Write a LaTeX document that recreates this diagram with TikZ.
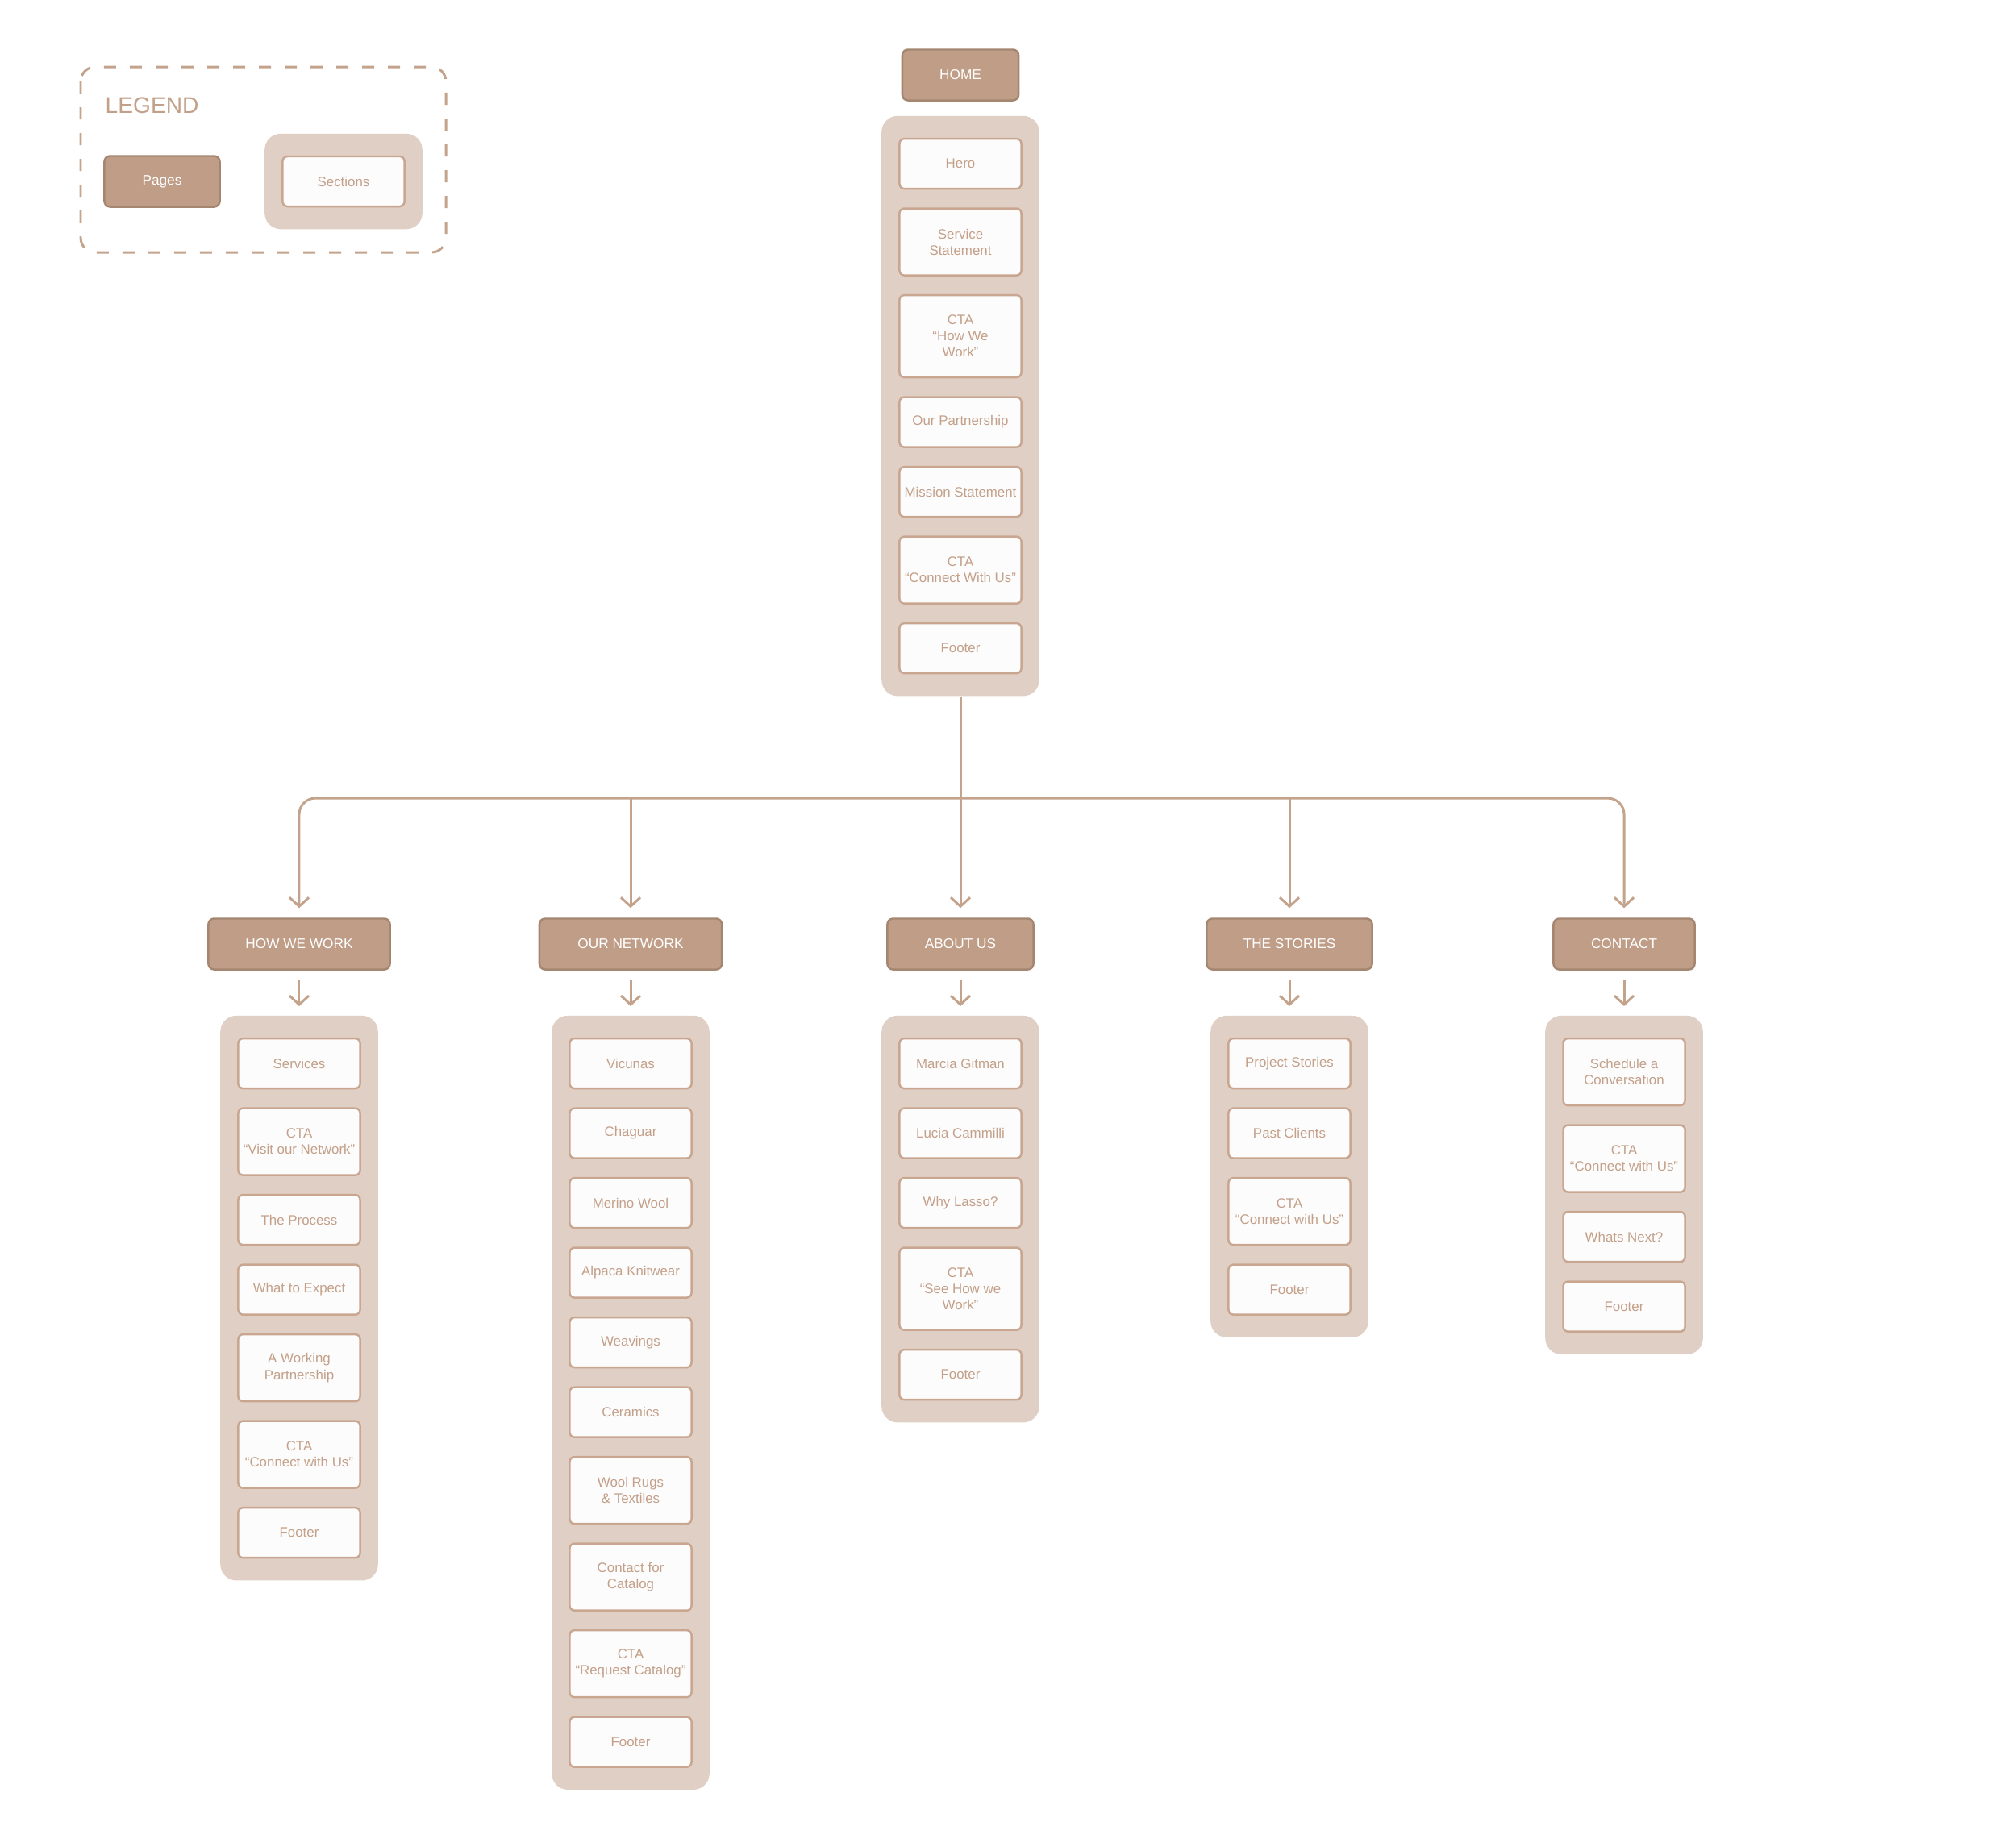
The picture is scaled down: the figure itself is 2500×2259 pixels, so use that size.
\documentclass[tikz,border=0pt]{standalone}
\usepackage{fontspec}
\setmainfont{Liberation Sans}
\usepackage{tikz}
\usetikzlibrary{arrows.meta,backgrounds,calc,positioning,fit}
\definecolor{seite}{RGB}{191,157,135}
\definecolor{seiterand}{RGB}{164,134,113}
\definecolor{halter}{RGB}{224,207,196}
\definecolor{abschnitt}{RGB}{253,252,252}
\definecolor{abschnittrand}{RGB}{201,166,144}
\definecolor{schrift}{RGB}{195,160,137}
\definecolor{linie}{RGB}{196,163,141}
\tikzset{
  page/.style={draw=seiterand,fill=seite,line width=0.7pt,rounded corners=0.07cm,minimum height=0.63cm,text=white,font=\fontsize{4.9}{6}\selectfont,inner sep=0pt},
  sect/.style={draw=abschnittrand,fill=abschnitt,line width=0.7pt,rounded corners=0.06cm,minimum width=1.51cm,text=schrift,align=center,font=\fontsize{4.8}{5.7}\selectfont,inner sep=0pt},
  holder/.style={fill=halter,rounded corners=0.2cm,inner xsep=0.21cm,inner ysep=0.27cm},
  conn/.style={draw=linie,line width=0.85pt,-{Straight Barb[length=0.11cm,width=0.24cm]}}
}

\begin{document}
\begin{tikzpicture}[x=0.01cm,y=-0.01cm]
%Koordinaten in Pixeln des Bildes, y zeigt nach unten
\useasboundingbox (0,0) rectangle (2500,2259);
%Legende
\draw[linie,dash pattern=on 0.15cm off 0.17cm,line width=0.85pt,rounded corners=0.18cm] (100,83) rectangle (553,313);
\node[anchor=base west,inner sep=0pt,text=schrift,font=\fontsize{8}{9}\selectfont] (legende) at (130,140) {LEGEND};
\node[page,minimum width=1.43cm] (lpage) at (201,225) {Pages};
\node[sect,minimum height=0.62cm] (lsect) at (426,225) {Sections};
%Startseite
\node[page,minimum width=1.44cm,alias=home-0] (home) at (1191,93) {HOME};
\foreach \txt/\h [count=\i,remember=\i as \j (initially 0)] in {Hero/0.62,{Service\\Statement}/0.83,{CTA\\“How We\\Work”}/1.02,Our Partnership/0.62,Mission Statement/0.62,{CTA\\“Connect With Us”}/0.83,Footer/0.62}{
  \pgfmathsetmacro\abst{\i==1 ? 0.45 : 0.22}
  \node[sect,minimum height=\h cm,below=\abst cm of home-\j] (home-\i) {\txt};
}
%Unterseiten
\node[page,minimum width=2.25cm,alias=hww-0] (hww) at (371,1171) {HOW WE WORK};
\node[page,minimum width=2.26cm,alias=netz-0] (netz) at (782,1171) {OUR NETWORK};
\node[page,minimum width=1.81cm,alias=about-0] (about) at (1191,1171) {ABOUT US};
\node[page,minimum width=2.05cm,alias=stories-0] (stories) at (1599,1171) {THE STORIES};
\node[page,minimum width=1.75cm,alias=contact-0] (contact) at (2014,1171) {CONTACT};
\foreach \txt/\h [count=\i,remember=\i as \j (initially 0)] in {Services/0.62,{CTA\\“Visit our Network”}/0.83,The Process/0.62,What to Expect/0.62,{A Working\\Partnership}/0.83,{CTA\\“Connect with Us”}/0.83,Footer/0.62}{
  \pgfmathsetmacro\abst{\i==1 ? 0.83 : 0.22}
  \node[sect,minimum height=\h cm,below=\abst cm of hww-\j] (hww-\i) {\txt};
}
\foreach \txt/\h [count=\i,remember=\i as \j (initially 0)] in {Vicunas/0.62,Chaguar/0.62,Merino Wool/0.62,Alpaca Knitwear/0.62,Weavings/0.62,Ceramics/0.62,{Wool Rugs\\\& Textiles}/0.83,{Contact for\\Catalog}/0.83,{CTA\\“Request Catalog”}/0.83,Footer/0.62}{
  \pgfmathsetmacro\abst{\i==1 ? 0.83 : 0.22}
  \node[sect,minimum height=\h cm,below=\abst cm of netz-\j] (netz-\i) {\txt};
}
\foreach \txt/\h [count=\i,remember=\i as \j (initially 0)] in {Marcia Gitman/0.62,Lucia Cammilli/0.62,Why Lasso?/0.62,{CTA\\“See How we\\Work”}/1.02,Footer/0.62}{
  \pgfmathsetmacro\abst{\i==1 ? 0.83 : 0.22}
  \node[sect,minimum height=\h cm,below=\abst cm of about-\j] (about-\i) {\txt};
}
\foreach \txt/\h [count=\i,remember=\i as \j (initially 0)] in {Project Stories/0.62,Past Clients/0.62,{CTA\\“Connect with Us”}/0.83,Footer/0.62}{
  \pgfmathsetmacro\abst{\i==1 ? 0.83 : 0.22}
  \node[sect,minimum height=\h cm,below=\abst cm of stories-\j] (stories-\i) {\txt};
}
\foreach \txt/\h [count=\i,remember=\i as \j (initially 0)] in {{Schedule a\\Conversation}/0.83,{CTA\\“Connect with Us”}/0.83,Whats Next?/0.62,Footer/0.62}{
  \pgfmathsetmacro\abst{\i==1 ? 0.83 : 0.22}
  \node[sect,minimum height=\h cm,below=\abst cm of contact-\j] (contact-\i) {\txt};
}
%Hintergrund der Abschnitte
\begin{scope}[on background layer]
  \node[holder,fit=(lsect)] (lhalter) {};
  \node[holder,fit=(home-1)(home-7)] (home-halter) {};
  \node[holder,fit=(hww-1)(hww-7)] (hww-halter) {};
  \node[holder,fit=(netz-1)(netz-10)] (netz-halter) {};
  \node[holder,fit=(about-1)(about-5)] (about-halter) {};
  \node[holder,fit=(stories-1)(stories-4)] (stories-halter) {};
  \node[holder,fit=(contact-1)(contact-4)] (contact-halter) {};
\end{scope}
%Verbindungen
\coordinate (bus) at ($(home-halter.south)+(0,126)$);
\draw[conn,rounded corners=0.2cm,shorten >=0.12cm] (bus) -| (hww.north);
\draw[conn,rounded corners=0.2cm,shorten >=0.12cm] (bus) -| (contact.north);
\draw[conn,shorten >=0.12cm] (home-halter.south) -- (about.north);
\draw[conn,shorten >=0.12cm] (bus -| netz.north) -- (netz.north);
\draw[conn,shorten >=0.12cm] (bus -| stories.north) -- (stories.north);
\foreach \s in {hww,netz,about,stories,contact}{
  \draw[conn,shorten <=0.12cm,shorten >=0.11cm] (\s.south) -- (\s-halter.north);
}
\end{tikzpicture}
\end{document}
